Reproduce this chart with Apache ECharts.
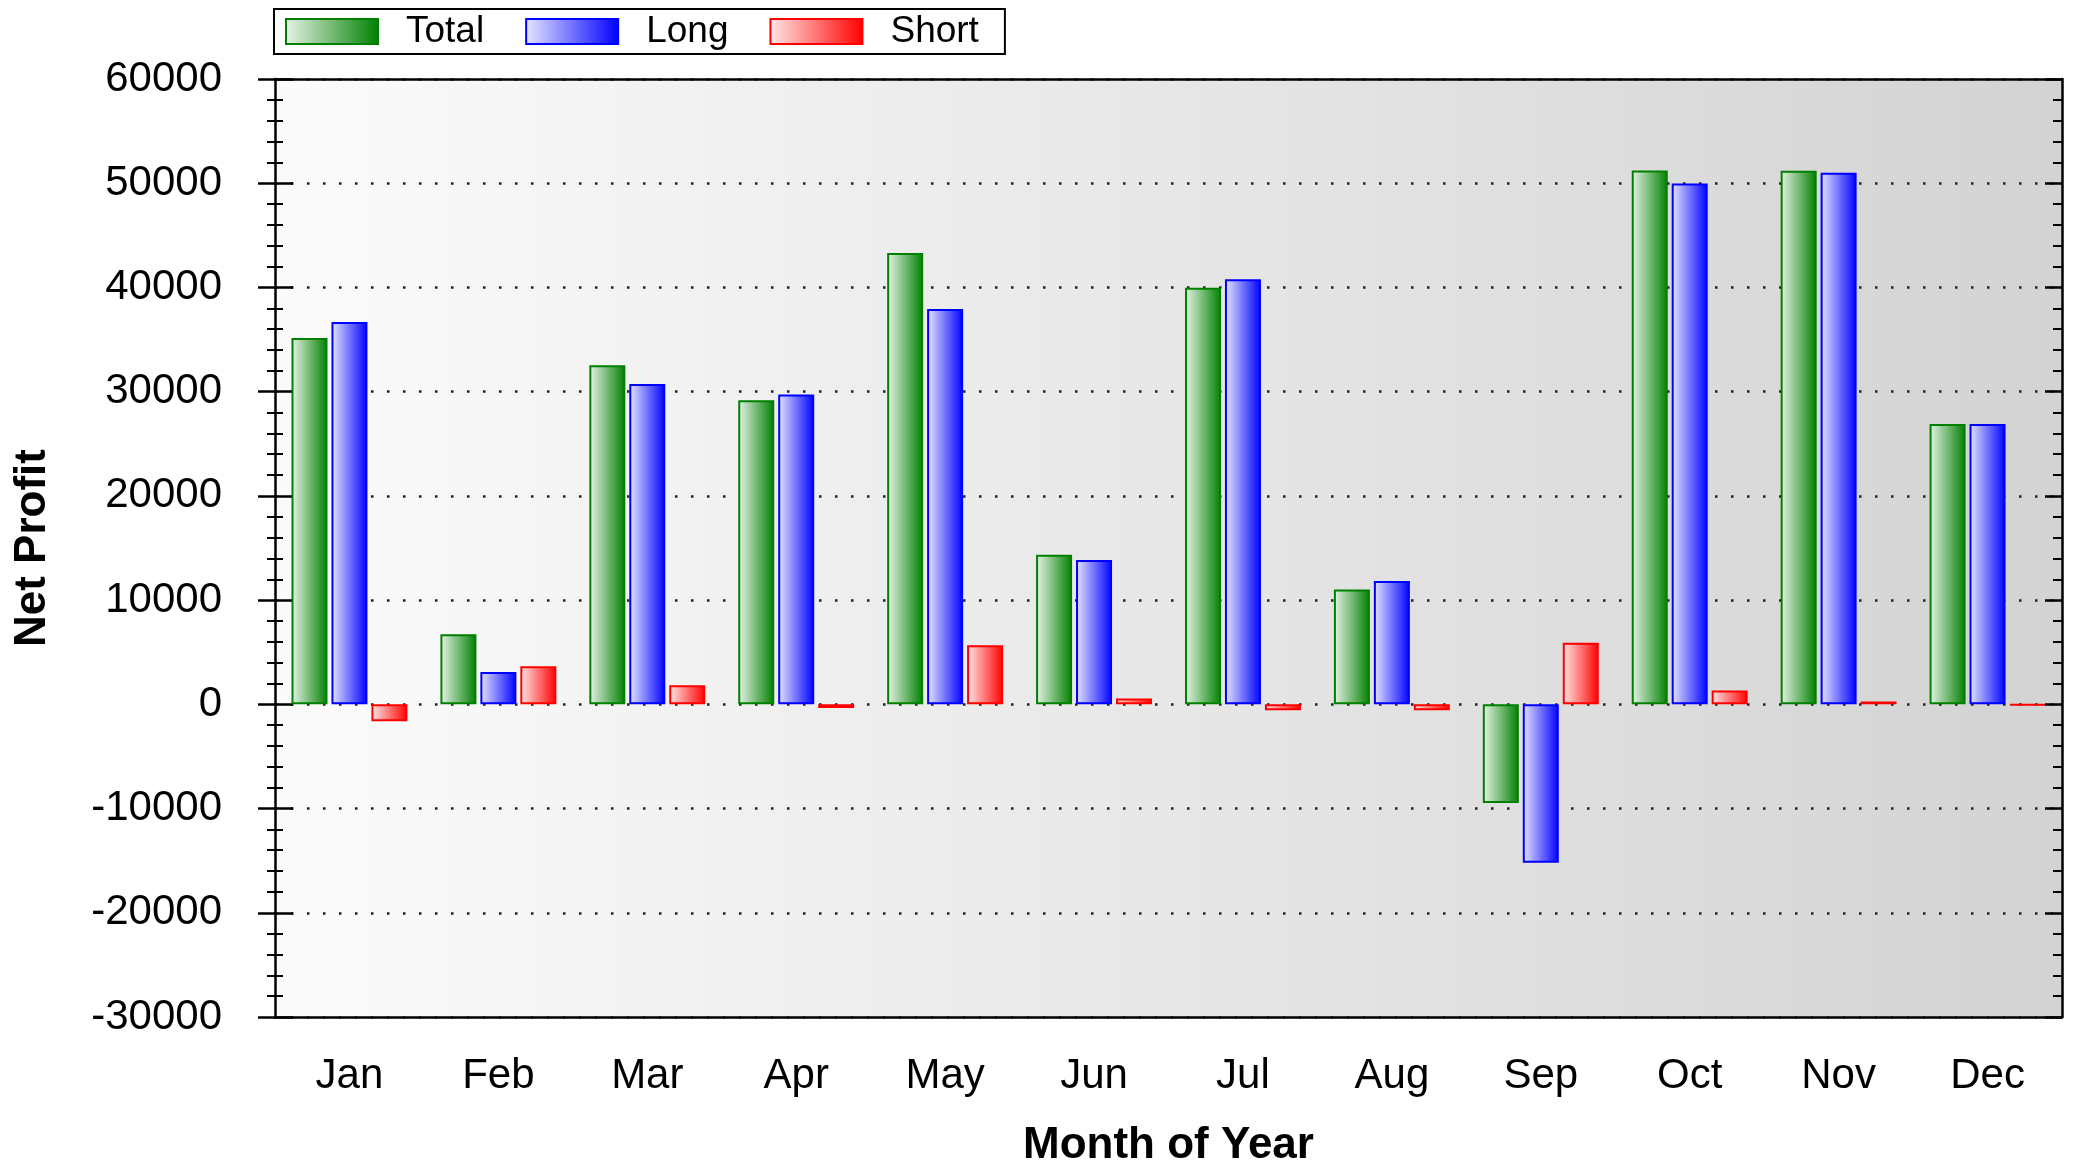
<!DOCTYPE html>
<html>
<head>
<meta charset="utf-8">
<script src="https://cdn.jsdelivr.net/npm/echarts@6/dist/echarts.min.js"></script>
<style>
  html, body { margin: 0; padding: 0; background: #fff; }
  #main { width: 2076px; height: 1167px; }
</style>
</head>
<body>
<div id="main"></div>
<script>
// data
var months = ['Jan', 'Feb', 'Mar', 'Apr', 'May', 'Jun', 'Jul', 'Aug', 'Sep', 'Oct', 'Nov', 'Dec'];
var total = [35150, 6720, 32530, 29170, 43310, 14360, 39980, 11030, -9460, 51220, 51200, 26900];
var long = [36690, 3110, 30740, 29740, 37940, 13850, 40780, 11840, -15190, 49970, 51010, 26900];
var short = [-1630, 3650, 1820, -350, 5660, 550, -575, -575, 5920, 1330, 280, -80];
var yMin = -30000, yMax = 60000, yStep = 10000;

var font = '"Liberation Sans", Arial, sans-serif';

function grad(light, dark) {
    return new echarts.graphic.LinearGradient(0, 0, 1, 0, [
        {offset: 0, color: light},
        {offset: 1, color: dark}
    ]);
}

function bar(name, data, light, dark) {
    return {
        name: name,
        type: 'bar',
        data: data,
        barWidth: 36,
        barGap: '11%',
        itemStyle: {color: grad(light, dark), borderColor: dark, borderWidth: 2}
    };
}

var black = {color: '#000', width: 2.5};

var chart = echarts.init(document.getElementById('main'));
chart.setOption({
    animation: false,
    legend: {
        left: 274, top: 9,
        data: ['Total', 'Long', 'Short'],
        icon: 'rect',
        itemWidth: 92, itemHeight: 25, itemGap: 41,
        borderColor: '#000', borderWidth: 2,
        padding: [4, 26, 4, 11],
        textStyle: {fontSize: 37, fontFamily: font, color: '#000', padding: [0, 0, 0, 23]}
    },
    grid: {
        left: 275, top: 79, width: 1787, height: 938,
        outerBoundsMode: 'none',
        show: true, borderWidth: 0,
        backgroundColor: grad('#fbfbfb', '#d3d3d3')
    },
    xAxis: [
        {
            type: 'category', data: months, position: 'bottom',
            axisLine: {onZero: false, lineStyle: black},
            axisTick: {alignWithLabel: true, length: 18, lineStyle: black},
            axisLabel: {fontSize: 42, fontFamily: font, color: '#000', margin: 38},
            name: 'Month of Year', nameLocation: 'middle', nameGap: 107,
            nameTextStyle: {fontSize: 44, fontWeight: 'bold', fontFamily: font, color: '#000'}
        },
        {
            type: 'category', data: months, position: 'top',
            axisLine: {onZero: false, lineStyle: black},
            axisTick: {alignWithLabel: true, inside: true, length: 13, lineStyle: black},
            axisLabel: {show: false}
        },
        {
            type: 'category', data: months, position: 'bottom',
            axisLine: {show: false, onZero: false},
            axisTick: {alignWithLabel: true, inside: true, length: 13, lineStyle: black},
            axisLabel: {show: false}
        }
    ],
    yAxis: [
        {
            type: 'value', min: yMin, max: yMax, interval: yStep, position: 'left',
            axisLine: {show: true, onZero: false, lineStyle: black},
            axisTick: {show: true, length: 17, lineStyle: black},
            minorTick: {show: true, splitNumber: 5, length: 8, lineStyle: {color: '#000', width: 2}},
            axisLabel: {
                fontSize: 42, fontFamily: font, color: '#000', margin: 53, padding: [0, 0, 12, 0],
                formatter: function (v) { return String(v); }
            },
            splitLine: {show: true, lineStyle: {color: '#222', width: 2.5, type: [2.5, 13.5]}},
            name: 'Net Profit', nameLocation: 'middle', nameGap: 220, nameRotate: 90,
            nameTextStyle: {fontSize: 44, fontWeight: 'bold', fontFamily: font, color: '#000'}
        },
        {
            type: 'value', min: yMin, max: yMax, interval: yStep, position: 'left',
            axisLine: {show: false, onZero: false},
            axisTick: {show: true, inside: true, length: 18, lineStyle: black},
            minorTick: {show: true, splitNumber: 5, length: 8, lineStyle: {color: '#000', width: 2}},
            axisLabel: {show: false},
            splitLine: {show: false}
        },
        {
            type: 'value', min: yMin, max: yMax, interval: yStep, position: 'right',
            axisLine: {show: true, onZero: false, lineStyle: black},
            axisTick: {show: true, inside: true, length: 17, lineStyle: black},
            minorTick: {show: true, splitNumber: 5, length: 9, lineStyle: {color: '#000', width: 2}},
            axisLabel: {show: false},
            splitLine: {show: false}
        }
    ],
    series: [
        bar('Total', total, '#e8f4e8', '#008000'),
        bar('Long', long, '#e6e6ff', '#0000ff'),
        bar('Short', short, '#ffe8e8', '#ff0000')
    ]
});
</script>
</body>
</html>
